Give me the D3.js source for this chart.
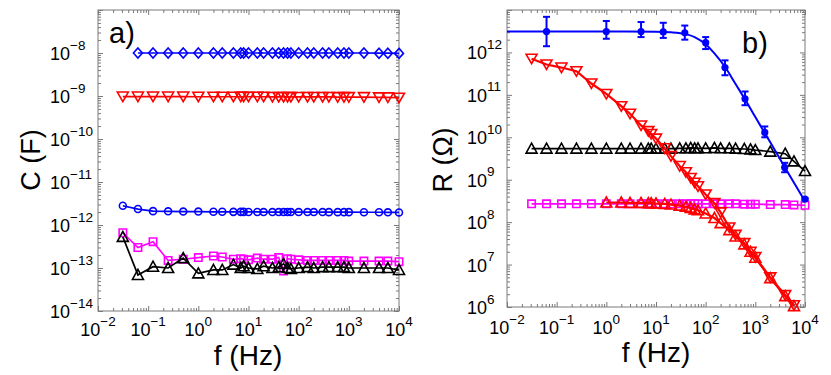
<!DOCTYPE html>
<html>
<head>
<meta charset="utf-8">
<script src="https://cdn.jsdelivr.net/npm/d3@7"></script>
<style>
body { margin: 0; background: #fff; }
text { font-family: "Liberation Sans", Arial, Helvetica, sans-serif; fill: #000; }
</style>
</head>
<body>
<div id="chart"></div>
<script>
//width and height
var w = 831;
var h = 375;

// measurement frequencies (Hz)
var freqAll = [0.03125, 0.0625, 0.125, 0.25, 0.5, 1, 2, 3, 5, 7, 8, 10, 15, 20, 30, 40, 50, 60, 70,
	100, 150, 200, 300, 400, 600, 800, 1000, 2000, 4000, 6000, 10000];
var freqFrom0p06 = freqAll.slice(1);
var freqTo6k = freqAll.slice(0, 30);
var freqFrom1To6k = freqAll.slice(5, 30);

// panel a) capacitance (F)
var capDiamond = [1.0e-8, 1.0e-8, 1.0e-8, 1.0e-8, 1.0e-8, 1.0e-8, 1.0e-8, 1.0e-8, 1.0e-8, 1.0e-8,
	1.0e-8, 1.0e-8, 1.0e-8, 1.0e-8, 1.0e-8, 1.0e-8, 1.0e-8, 1.0e-8, 1.0e-8, 1.0e-8,
	1.0e-8, 1.0e-8, 1.0e-8, 1.0e-8, 1.0e-8, 1.0e-8, 1.0e-8, 0.99e-8, 0.99e-8, 0.98e-8];
var capTriDown = [9.7e-10, 9.7e-10, 9.7e-10, 9.7e-10, 9.7e-10, 9.6e-10, 9.6e-10, 9.6e-10, 9.6e-10, 9.6e-10,
	9.6e-10, 9.6e-10, 9.6e-10, 9.6e-10, 9.5e-10, 9.5e-10, 9.5e-10, 9.5e-10, 9.5e-10, 9.5e-10,
	9.5e-10, 9.5e-10, 9.5e-10, 9.5e-10, 9.4e-10, 9.4e-10, 9.4e-10, 9.4e-10, 9.3e-10, 9.3e-10, 9.1e-10];
var capCircle = [2.8e-12, 2.35e-12, 2.1e-12, 2.08e-12, 2.05e-12, 2.05e-12, 2.03e-12, 2.03e-12, 2.02e-12, 2.02e-12,
	2.02e-12, 2.01e-12, 2.01e-12, 2.0e-12, 2.0e-12, 2.0e-12, 2.0e-12, 2.0e-12, 2.0e-12, 2.0e-12,
	2.0e-12, 2.0e-12, 2.0e-12, 1.99e-12, 1.99e-12, 1.99e-12, 1.99e-12, 1.98e-12, 1.98e-12, 1.97e-12, 1.96e-12];
var capSquare = [6.6e-13, 3.0e-13, 4.1e-13, 1.5e-13, 1.6e-13, 1.75e-13, 1.9e-13, 1.8e-13, 1.6e-13, 1.65e-13,
	1.6e-13, 1.55e-13, 1.7e-13, 1.6e-13, 1.6e-13, 1.75e-13, 0.85e-13, 1.65e-13, 1.6e-13, 1.55e-13,
	1.5e-13, 1.5e-13, 1.5e-13, 1.5e-13, 1.5e-13, 1.5e-13, 1.45e-13, 1.45e-13, 1.45e-13, 1.45e-13, 1.4e-13];
var capTriUp = [5.3e-13, 6.9e-14, 1.07e-13, 1.0e-13, 1.7e-13, 7.5e-14, 9.0e-14, 9.0e-14, 1.2e-13, 1.0e-13,
	1.1e-13, 1.0e-13, 9.5e-14, 1.1e-13, 1.0e-13, 1.05e-13, 1.25e-13, 1.0e-13, 9.5e-14, 1.0e-13,
	1.05e-13, 1.0e-13, 1.05e-13, 1.05e-13, 1.05e-13, 1.05e-13, 1.0e-13, 1.0e-13, 1.0e-13, 1.0e-13, 9.0e-14];

// panel b) resistance (Ohm)
var resBlueFreq = [0.0625, 1, 5, 14, 38, 100, 245, 620, 1550, 3900, 10000];
var resBlue = [3.1e12, 3.1e12, 3.1e12, 3.05e12, 2.9e12, 1.7e12, 4.4e11, 8.1e10, 1.3e10, 1.95e9, 3.5e8];
var resBlueLow = [1.4e12, 2.1e12, 2.3e12, 2.2e12, 2.0e12, 1.2e12, 2.9e11, 5.7e10, 1.0e10, 1.5e9, 3.3e8];
var resBlueHigh = [6.9e12, 5.5e12, 5.2e12, 5.0e12, 4.3e12, 2.3e12, 6.5e11, 1.2e11, 1.8e10, 2.5e9, 3.7e8];
var fitFreq = [0.01, 1, 10, 20, 40, 60, 100, 150, 250, 400, 700, 1000, 2000, 4000, 10000];
var fitBlue = [3.1e12, 3.1e12, 3.07e12, 2.98e12, 2.7e12, 2.3e12, 1.55e12, 9.5e11, 4.4e11, 1.8e11,
	6.2e10, 3.0e10, 7.6e9, 1.9e9, 3.1e8];
var resTriDown = [7.1e11, 5.2e11, 4.4e11, 3.6e11, 1.85e11, 1.05e11, 5.4e10, 3.6e10, 1.9e10, 1.4e10,
	1.2e10, 9.3e9, 5.5e9, 3.6e9, 2.1e9, 1.5e9, 1.1e9, 8.5e8, 7.0e8, 4.5e8,
	2.8e8, 1.7e8, 7.5e7, 5.0e7, 3.2e7, 2.0e7, 1.5e7, 5.0e6, 1.9e6, 1.1e6];
var resTriUpRed = [2.9e8, 2.9e8, 2.85e8, 2.85e8, 2.8e8, 2.8e8, 2.75e8, 2.7e8, 2.6e8, 2.45e8,
	2.3e8, 2.15e8, 2.0e8, 1.9e8, 1.6e8, 1.25e8, 9.5e7, 6.5e7, 4.6e7, 3.0e7,
	2.0e7, 1.45e7, 4.8e6, 1.8e6, 1.05e6];
var resTriUpBlack = [5.4e9, 5.4e9, 5.4e9, 5.4e9, 5.4e9, 5.4e9, 5.4e9, 5.4e9, 5.4e9, 5.4e9,
	5.4e9, 5.4e9, 5.4e9, 5.4e9, 5.5e9, 5.5e9, 5.6e9, 5.5e9, 5.5e9, 5.5e9,
	5.6e9, 5.5e9, 5.5e9, 5.4e9, 5.3e9, 5.2e9, 5.0e9, 4.6e9, 4.1e9, 2.7e9, 1.6e9];
var resSquare = [2.7e8, 2.7e8, 2.7e8, 2.7e8, 2.7e8, 2.7e8, 2.7e8, 2.7e8, 2.7e8, 2.7e8,
	2.7e8, 2.7e8, 2.7e8, 2.7e8, 2.7e8, 2.7e8, 2.7e8, 2.7e8, 2.7e8, 2.7e8,
	2.7e8, 2.7e8, 2.7e8, 2.7e8, 2.65e8, 2.65e8, 2.65e8, 2.6e8, 2.6e8, 2.55e8, 2.5e8];

// tick exponents
var xExps = [-2, -1, 0, 1, 2, 3, 4];
var yExpsA = [-14, -13, -12, -11, -10, -9, -8];
var yExpsB = [6, 7, 8, 9, 10, 11, 12];

var svg = d3.select("#chart").append("svg")
	.attr("width", w)
	.attr("height", h);

//scales
var xA = d3.scaleLog().domain([1e-2, 1e4]).range([98, 399]);
var yA = d3.scaleLog().domain([1e-14, 1e-7]).range([311, 10]);
var xB = d3.scaleLog().domain([1e-2, 1e4]).range([507, 805]);
var yB = d3.scaleLog().domain([1e6, 1e13]).range([307, 10]);

function zip(fs, vs) {
	return fs.map(function (f, i) { return {f: f, v: vs[i]}; });
}

function isMajor(v) {
	var l = Math.log10(v);
	return Math.abs(l - Math.round(l)) < 1e-6;
}

function frame(x, y) {
	var x0 = x.range()[0], x1 = x.range()[1], y0 = y.range()[1], y1 = y.range()[0];
	svg.append("rect")
		.attr("x", x0).attr("y", y0)
		.attr("width", x1 - x0).attr("height", y1 - y0)
		.attr("fill", "none")
		.attr("stroke", "#7a7a7a")
		.attr("stroke-width", 1);

	var xMaj = x.ticks().filter(isMajor), xMin = x.ticks().filter(function (d) { return !isMajor(d); });
	var yMaj = y.ticks().filter(isMajor), yMin = y.ticks().filter(function (d) { return !isMajor(d); });

	// ticks point inward on all four sides
	var defs = [
		[d3.axisBottom(x), "translate(0," + y1 + ")", xMaj, xMin],
		[d3.axisTop(x), "translate(0," + y0 + ")", xMaj, xMin],
		[d3.axisLeft(y), "translate(" + x0 + ",0)", yMaj, yMin],
		[d3.axisRight(y), "translate(" + x1 + ",0)", yMaj, yMin]
	];
	defs.forEach(function (d) {
		[[d[2], -5], [d[3], -3]].forEach(function (t) {
			var g = svg.append("g")
				.attr("transform", d[1])
				.call(d[0].tickValues(t[0]).tickSize(t[1]).tickFormat(""));
			g.select(".domain").remove();
			g.selectAll("line").attr("stroke", "#7a7a7a");
		});
	});
}

function expLabel(px, py, e, anchor) {
	var t = svg.append("text")
		.attr("x", px)
		.attr("y", py)
		.attr("font-size", "18px")
		.attr("text-anchor", anchor);
	t.append("tspan").text("10");
	t.append("tspan")
		.attr("font-size", "13.5px")
		.attr("dy", -10.5)
		.text(e < 0 ? "\u2212" + (-e) : String(e));
}

function markerPath(type) {
	if (type === "diamond") return "M0,-5L4.5,0L0,5L-4.5,0Z";
	if (type === "down") return "M-5.5,-4.5L5.5,-4.5L0,5Z";
	if (type === "up") return "M-5.5,4.5L5.5,4.5L0,-5.5Z";
	if (type === "square") return "M-3.7,-3.7H3.7V3.7H-3.7Z";
	return d3.symbol().type(d3.symbolCircle).size(38)();
}

function series(x, y, fs, vs, color, type, lw) {
	var data = zip(fs, vs);
	var line = d3.line()
		.x(function (d) { return x(d.f); })
		.y(function (d) { return y(d.v); });
	svg.append("path")
		.datum(data)
		.attr("d", line)
		.attr("fill", "none")
		.attr("stroke", color)
		.attr("stroke-width", lw || 1.7);
	svg.append("g").selectAll("path")
		.data(data)
		.enter()
		.append("path")
		.attr("transform", function (d) { return "translate(" + x(d.f) + "," + y(d.v) + ")"; })
		.attr("d", markerPath(type))
		.attr("fill", "none")
		.attr("stroke", color)
		.attr("stroke-width", 1.6);
}

//panel a
frame(xA, yA);
series(xA, yA, freqAll, capTriDown, "#ff0000", "down");
series(xA, yA, freqFrom0p06, capDiamond, "#0000ff", "diamond");
series(xA, yA, freqAll, capCircle, "#0000ff", "circle");
series(xA, yA, freqAll, capSquare, "#ff00ff", "square");
series(xA, yA, freqAll, capTriUp, "#000000", "up");

//panel b
frame(xB, yB);
series(xB, yB, freqAll, resSquare, "#ff00ff", "square");
series(xB, yB, freqAll, resTriUpBlack, "#000000", "up");
series(xB, yB, freqFrom1To6k, resTriUpRed, "#ff0000", "up", 2.2);
series(xB, yB, freqTo6k, resTriDown, "#ff0000", "down", 2.2);

// fitted curve for the blue data
svg.append("path")
	.datum(zip(fitFreq, fitBlue))
	.attr("d", d3.line()
		.x(function (d) { return xB(d.f); })
		.y(function (d) { return yB(d.v); })
		.curve(d3.curveMonotoneX))
	.attr("fill", "none")
	.attr("stroke", "#0000ff")
	.attr("stroke-width", 2);

var blueData = resBlueFreq.map(function (f, i) {
	return {f: f, v: resBlue[i], lo: resBlueLow[i], hi: resBlueHigh[i]};
});
var eb = svg.append("g").selectAll("g")
	.data(blueData)
	.enter()
	.append("g")
	.attr("stroke", "#0000ff")
	.attr("stroke-width", 2);
eb.append("line")
	.attr("x1", function (d) { return xB(d.f); })
	.attr("x2", function (d) { return xB(d.f); })
	.attr("y1", function (d) { return yB(d.lo); })
	.attr("y2", function (d) { return yB(d.hi); });
eb.append("line")
	.attr("x1", function (d) { return xB(d.f) - 3.5; })
	.attr("x2", function (d) { return xB(d.f) + 3.5; })
	.attr("y1", function (d) { return yB(d.lo); })
	.attr("y2", function (d) { return yB(d.lo); });
eb.append("line")
	.attr("x1", function (d) { return xB(d.f) - 3.5; })
	.attr("x2", function (d) { return xB(d.f) + 3.5; })
	.attr("y1", function (d) { return yB(d.hi); })
	.attr("y2", function (d) { return yB(d.hi); });
svg.append("g").selectAll("circle")
	.data(blueData)
	.enter()
	.append("circle")
	.attr("cx", function (d) { return xB(d.f); })
	.attr("cy", function (d) { return yB(d.v); })
	.attr("r", 3.6)
	.attr("fill", "#0000ff");

//tick labels
xExps.forEach(function (e) {
	expLabel(xA(Math.pow(10, e)), 336, e, "middle");
	expLabel(xB(Math.pow(10, e)), 334, e, "middle");
});
yExpsA.forEach(function (e) {
	expLabel(50, yA(Math.pow(10, e)) + 7, e, "start");
});
yExpsB.forEach(function (e) {
	expLabel(467, yB(Math.pow(10, e)) + 7, e, "start");
});

//axis titles
svg.append("text")
	.attr("transform", "translate(40,160) rotate(-90)")
	.attr("text-anchor", "middle")
	.attr("font-size", "27px")
	.text("C (F)");
svg.append("text")
	.attr("transform", "translate(452,160) rotate(-90)")
	.attr("text-anchor", "middle")
	.attr("font-size", "27px")
	.text("R (\u03a9)");
svg.append("text")
	.attr("x", 248).attr("y", 365)
	.attr("text-anchor", "middle")
	.attr("font-size", "28px")
	.text("f (Hz)");
svg.append("text")
	.attr("x", 656).attr("y", 362)
	.attr("text-anchor", "middle")
	.attr("font-size", "28px")
	.text("f (Hz)");

//panel letters
svg.append("text").attr("x", 109).attr("y", 43).attr("font-size", "29px").text("a)");
svg.append("text").attr("x", 742).attr("y", 53).attr("font-size", "29px").text("b)");
</script>
</body>
</html>
